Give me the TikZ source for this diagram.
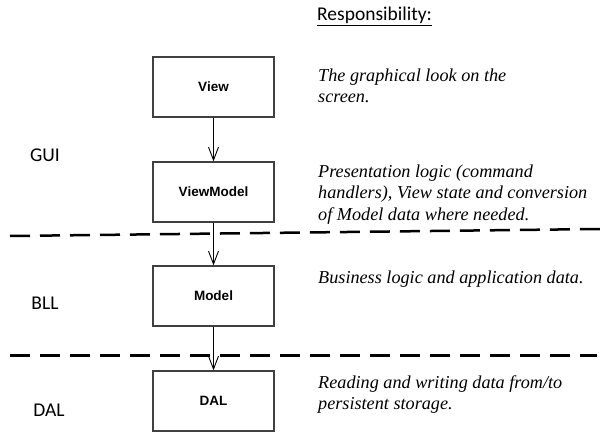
\documentclass[tikz,border=0pt]{standalone}
\usepackage{xcolor}
\usepackage{fontspec}
\setmainfont{Liberation Serif}
\newfontfamily\cajafont{Liberation Sans}
\newfontfamily\capafont{Carlito}
\usetikzlibrary{arrows.meta}

\begin{document}
\begin{tikzpicture}[x=1pt,y=-1pt,
    caja/.style={draw=black!75, line width=1.3pt, minimum width=121pt,
      minimum height=60pt, inner sep=0pt,
      font=\cajafont\bfseries\fontsize{13.5}{16}\selectfont},
    capa/.style={inner sep=0pt, font=\capafont\fontsize{19.5}{23}\selectfont},
    texto/.style={anchor=base west, align=left, inner sep=0pt,
      font=\itshape\fontsize{18.2}{21.5}\selectfont},
    flecha/.style={-{Straight Barb[length=13pt,width=10pt]}, line width=0.9pt},
    corte/.style={line width=2.5pt, dash pattern=on 20pt off 10pt}]
        \useasboundingbox (0,0) rectangle (612,438);

        % Paso 1: Define las cajas de cada capa
        \node[caja] (view) at (213.5,87) {View};
        \node[caja] (viewmodel) at (213.5,192) {ViewModel};
        \node[caja] (model) at (213.5,296) {Model};
        \node[caja] (dal) at (213.5,401) {DAL};

        % Paso 2: Define los extremos de las lineas de corte
        \coordinate (corte1a) at (10,236);
        \coordinate (corte1b) at (600,229);
        \coordinate (corte2a) at (10,355.7);
        \coordinate (corte2b) at (597,355.7);

        % Paso 3: Dibuja las lineas de corte
        \draw[corte] (corte1a) -- (corte1b);
        \draw[corte] (corte2a) -- (corte2b);

        % Paso 4: Dibuja las flechas entre cajas
        \draw[flecha] (view) -- (viewmodel);
        \draw[flecha] (viewmodel) -- (model);
        \draw[flecha] (model) -- (dal);

        % Paso 5: Etiqueta las capas
        \node[capa] (gui) at (45,155) {GUI};
        \node[capa] (bll) at (45,303) {BLL};
        \node[capa] (dalcapa) at (49,410) {DAL};

        % Paso 6: Describe cada responsabilidad (base = ultima linea)
        \node[capa, anchor=base west] (resp) at (317,20.7) {\underline{Responsibility:}};
        \node[texto] (tview) at (318,103) {The graphical look on the\\screen.};
        \node[texto] (tviewmodel) at (318,220.5) {Presentation logic (command\\handlers), View state and conversion\\of Model data where needed.};
        \node[texto] (tmodel) at (318,283.3) {Business logic and application data.};
        \node[texto] (tdal) at (318,409.8) {Reading and writing data from/to\\persistent storage.};
    \end{tikzpicture}
\end{document}
